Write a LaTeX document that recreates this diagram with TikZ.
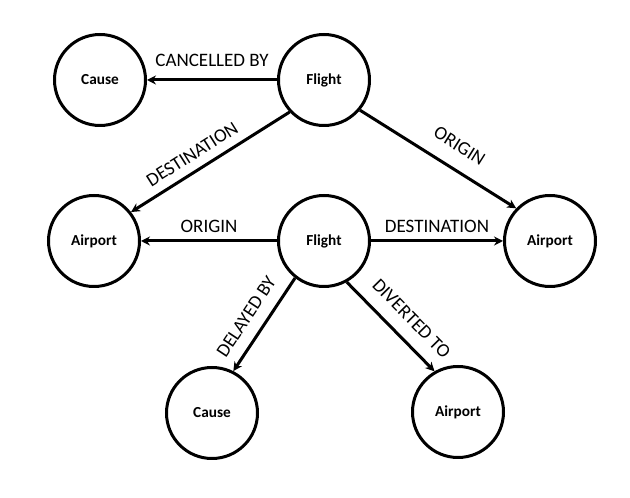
\documentclass[tikz,border=0pt]{standalone}
\usepackage{fontspec}
\setmainfont{Carlito}
\usepackage{tikz}
\usetikzlibrary{arrows.meta,positioning}
\tikzstyle{entity} = [
    circle,
    draw=black,
    line width=3pt,
    minimum size=91pt,
    inner sep=0pt,
    on grid,
    font=\fontsize{15.3}{18}\selectfont\bfseries
]
\tikzstyle{rel} = [
    line width=3pt,
    -{Stealth[length=9pt,width=9pt]},
    draw=black
]
\tikzstyle{lbl} = [
    inner sep=2pt,
    font=\fontsize{19}{22}\selectfont
]

\begin{document}
\begin{tikzpicture}[x=1pt,y=1pt]
    \useasboundingbox (0,0) rectangle (630,498);
    \node[entity] (F1) at (324,418) {Flight};
    \node[entity] (C1) [left=224pt of F1] {Cause};
    \node[entity] (F2) [below=161pt of F1] {Flight};
    \node[entity] (A1) [left=230pt of F2] {Airport};
    \node[entity] (A2) [right=226pt of F2] {Airport};
    \node[entity] (C2) [below left=172pt and 112pt of F2] {Cause};
    \node[entity] (A3) [below right=171pt and 134pt of F2] {Airport};
    \draw[rel] (F1) -- node[lbl, above=9.4pt] {CANCELLED BY} (C1);
    \draw[rel] (F1.223) -- node[lbl, sloped, above=6.6pt, pos=0.56] {DESTINATION} (A1.38);
    \draw[rel] (F1.-40) -- node[lbl, sloped, above=13pt, pos=0.56] {ORIGIN} (A2.136);
    \draw[rel] (F2) -- node[lbl, above=4.8pt] {ORIGIN} (A1);
    \draw[rel] (F2) -- node[lbl, above=4.8pt] {DESTINATION} (A2);
    \draw[rel] (F2.-128) -- node[lbl, sloped, above=9.7pt, pos=0.53] {DELAYED BY} (C2.63);
    \draw[rel] (F2.-61) -- node[lbl, sloped, above=11pt, pos=0.57] {DIVERTED TO} (A3.120);
\end{tikzpicture}
\end{document}
